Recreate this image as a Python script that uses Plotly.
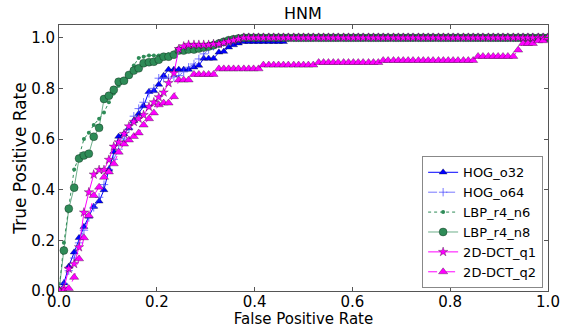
import plotly.graph_objects as go

# Shared false-positive-rate grid (markers are evenly spaced along x)
FPR = [0.000, 0.010, 0.020, 0.031, 0.041, 0.051, 0.061, 0.071, 0.082, 0.092,
       0.102, 0.112, 0.122, 0.133, 0.143, 0.153, 0.163, 0.173, 0.184, 0.194,
       0.204, 0.214, 0.224, 0.235, 0.245, 0.255, 0.265, 0.276, 0.286, 0.296,
       0.306, 0.316, 0.327, 0.337, 0.347, 0.357, 0.367, 0.378, 0.388, 0.398,
       0.408, 0.418, 0.429, 0.439, 0.449, 0.459, 0.469, 0.480, 0.490, 0.500,
       0.510, 0.520, 0.531, 0.541, 0.551, 0.561, 0.571, 0.582, 0.592, 0.602,
       0.612, 0.622, 0.633, 0.643, 0.653, 0.663, 0.673, 0.684, 0.694, 0.704,
       0.714, 0.724, 0.735, 0.745, 0.755, 0.765, 0.776, 0.786, 0.796, 0.806,
       0.816, 0.827, 0.837, 0.847, 0.857, 0.867, 0.878, 0.888, 0.898, 0.908,
       0.918, 0.929, 0.939, 0.949, 0.959, 0.969, 0.980, 0.990, 1.000]

HOG_o32 = [0.0, 0.031, 0.097, 0.153, 0.21, 0.254, 0.294, 0.333, 0.354, 0.399,
           0.48, 0.55, 0.61, 0.62, 0.643, 0.672, 0.70, 0.73, 0.787, 0.79,
           0.815, 0.85, 0.874, 0.874, 0.874, 0.874, 0.874, 0.883, 0.89, 0.918,
           0.918, 0.918, 0.942, 0.945, 0.962, 0.971, 0.978, 0.984, 0.984, 0.984,
           0.984, 0.984, 0.984, 0.984, 0.984, 0.984]

HOG_o64 = [0.0, 0.03, 0.08, 0.13, 0.19, 0.24, 0.29, 0.33, 0.37, 0.42,
           0.48, 0.52, 0.56, 0.60, 0.64, 0.69, 0.72, 0.745, 0.78, 0.80,
           0.84, 0.84, 0.84, 0.845, 0.85, 0.865, 0.883, 0.896, 0.916, 0.936,
           0.953, 0.966, 0.975, 0.98, 0.985, 0.99, 0.995, 1.0, 1.0, 1.0,
           1.0, 1.0, 1.0, 1.0, 1.0, 1.0, 1.0, 1.0, 1.0, 1.0,
           1.0, 1.0, 1.0, 1.0, 1.0, 1.0, 1.0, 1.0, 1.0, 1.0,
           1.0, 1.0, 1.0, 1.0, 1.0, 1.0, 1.0, 1.0, 1.0, 1.0,
           1.0, 1.0, 1.0, 1.0, 1.0, 1.0, 1.0, 1.0, 1.0, 1.0,
           1.0, 1.0, 1.0, 1.0, 1.0, 1.0, 1.0, 1.0, 1.0, 1.0,
           1.0, 1.0, 1.0, 1.0, 1.0, 1.0, 1.0, 1.0, 1.0]

LBP_r4_n6 = [0.0, 0.19, 0.33, 0.48, 0.53, 0.60, 0.625, 0.655, 0.68, 0.705,
             0.745, 0.78, 0.81, 0.83, 0.855, 0.89, 0.92, 0.925, 0.93, 0.93,
             0.93, 0.93, 0.935, 0.94, 0.95, 0.953, 0.957, 0.96, 0.965, 0.97,
             0.975, 0.98, 0.985, 0.99, 0.993, 0.996, 0.998, 1.0, 1.0, 1.0,
             1.0, 1.0, 1.0, 1.0, 1.0, 1.0, 1.0, 1.0, 1.0, 1.0,
             1.0, 1.0, 1.0, 1.0, 1.0, 1.0, 1.0, 1.0, 1.0, 1.0,
             1.0, 1.0, 1.0, 1.0, 1.0, 1.0, 1.0, 1.0, 1.0, 1.0,
             1.0, 1.0, 1.0, 1.0, 1.0, 1.0, 1.0, 1.0, 1.0, 1.0,
             1.0, 1.0, 1.0, 1.0, 1.0, 1.0, 1.0, 1.0, 1.0, 1.0,
             1.0, 1.0, 1.0, 1.0, 1.0, 1.0, 1.0, 1.0, 1.0]

LBP_r4_n8 = [0.0, 0.16, 0.325, 0.408, 0.523, 0.535, 0.542, 0.609, 0.644, 0.758,
             0.771, 0.794, 0.826, 0.83, 0.853, 0.87, 0.879, 0.899, 0.903, 0.905,
             0.913, 0.925, 0.925, 0.933, 0.949, 0.949, 0.953, 0.953, 0.957, 0.961,
             0.965, 0.97, 0.977, 0.984, 0.99, 0.994, 0.997, 1.0, 1.0, 1.0,
             1.0, 1.0, 1.0, 1.0, 1.0, 1.0, 1.0, 1.0, 1.0, 1.0,
             1.0, 1.0, 1.0, 1.0, 1.0, 1.0, 1.0, 1.0, 1.0, 1.0,
             1.0, 1.0, 1.0, 1.0, 1.0, 1.0, 1.0, 1.0, 1.0, 1.0,
             1.0, 1.0, 1.0, 1.0, 1.0, 1.0, 1.0, 1.0, 1.0, 1.0,
             1.0, 1.0, 1.0, 1.0, 1.0, 1.0, 1.0, 1.0, 1.0, 1.0,
             1.0, 1.0, 1.0, 1.0, 1.0, 1.0, 1.0, 1.0, 1.0]

DCT_q1 = [0.0, 0.01, 0.088, 0.107, 0.173, 0.31, 0.39, 0.46, 0.478, 0.478,
          0.518, 0.57, 0.587, 0.62, 0.65, 0.668, 0.68, 0.695, 0.727, 0.745,
          0.765, 0.784, 0.821, 0.86, 0.955, 0.966, 0.972, 0.972, 0.972, 0.972,
          0.972, 0.975, 0.975, 0.98, 0.985, 0.99, 0.995, 1.0, 1.0, 1.0,
          1.0, 1.0, 1.0, 1.0, 1.0, 1.0, 1.0, 1.0, 1.0, 1.0,
          1.0, 1.0, 1.0, 1.0, 1.0, 1.0, 1.0, 1.0, 1.0, 1.0,
          1.0, 1.0, 1.0, 1.0, 1.0, 1.0, 1.0, 1.0, 1.0, 1.0,
          1.0, 1.0, 1.0, 1.0, 1.0, 1.0, 1.0, 1.0, 1.0, 1.0,
          1.0, 1.0, 1.0, 1.0, 1.0, 1.0, 1.0, 1.0, 1.0, 1.0,
          1.0, 1.0, 1.0, 1.0, 1.0, 1.0, 1.0, 1.0, 1.0]

DCT_q2 = [0.0, 0.0, 0.01, 0.054, 0.127, 0.21, 0.298, 0.377, 0.41, 0.449,
          0.47, 0.502, 0.548, 0.58, 0.596, 0.61, 0.624, 0.655, 0.68, 0.703,
          0.735, 0.742, 0.742, 0.767, 0.833, 0.833, 0.833, 0.855, 0.855, 0.855,
          0.855, 0.855, 0.877, 0.877, 0.877, 0.877, 0.877, 0.877, 0.877, 0.877,
          0.877, 0.892, 0.892, 0.892, 0.892, 0.892, 0.892, 0.892, 0.892, 0.892,
          0.892, 0.892, 0.902, 0.902, 0.902, 0.902, 0.902, 0.902, 0.902, 0.902,
          0.902, 0.902, 0.902, 0.902, 0.902, 0.91, 0.91, 0.91, 0.91, 0.91,
          0.91, 0.91, 0.91, 0.91, 0.91, 0.91, 0.91, 0.91, 0.91, 0.91,
          0.91, 0.91, 0.91, 0.91, 0.926, 0.926, 0.926, 0.926, 0.926, 0.926,
          0.926, 0.926, 0.951, 0.977, 0.977, 0.977, 0.988, 0.988, 1.0]

X_TICKS = [0.0, 0.2, 0.4, 0.6, 0.8, 1.0]
Y_TICKS = [0.0, 0.2, 0.4, 0.6, 0.8, 1.0]

BLUE = "#0000ff"
GREEN = "#2e8b57"
MAGENTA = "#ff00ff"
EDGE = "rgba(0,0,0,0.6)"

fig = go.Figure()

fig.add_trace(go.Scatter(
    x=FPR[:len(HOG_o32)], y=HOG_o32, name="HOG_o32", mode="lines+markers",
    line=dict(color=BLUE, width=1),
    marker=dict(symbol="triangle-up", size=7, color=BLUE, line=dict(width=0.5, color=EDGE))))
fig.add_trace(go.Scatter(
    x=FPR[:len(HOG_o64)], y=HOG_o64, name="HOG_o64", mode="lines+markers",
    line=dict(color="rgba(60,60,255,0.7)", width=1, dash="dash"),
    marker=dict(symbol="cross-thin", size=6, color="rgba(60,60,255,0.7)",
                line=dict(width=1, color="rgba(60,60,255,0.7)"))))
fig.add_trace(go.Scatter(
    x=FPR[:len(LBP_r4_n6)], y=LBP_r4_n6, name="LBP_r4_n6", mode="lines+markers",
    line=dict(color=GREEN, width=1, dash="dot"),
    marker=dict(symbol="circle", size=4, color=GREEN, line=dict(width=0))))
fig.add_trace(go.Scatter(
    x=FPR[:len(LBP_r4_n8)], y=LBP_r4_n8, name="LBP_r4_n8", mode="lines+markers",
    line=dict(color=GREEN, width=0.7),
    marker=dict(symbol="circle", size=8, color=GREEN, line=dict(width=0.5, color=EDGE))))
fig.add_trace(go.Scatter(
    x=FPR[:len(DCT_q1)], y=DCT_q1, name="2D-DCT_q1", mode="lines+markers",
    line=dict(color=MAGENTA, width=1),
    marker=dict(symbol="star", size=7, color=MAGENTA, line=dict(width=0.5, color=EDGE))))
fig.add_trace(go.Scatter(
    x=FPR[:len(DCT_q2)], y=DCT_q2, name="2D-DCT_q2", mode="lines+markers",
    line=dict(color=MAGENTA, width=1, dash="dash"),
    marker=dict(symbol="triangle-up", size=8, color=MAGENTA, line=dict(width=0.5, color=EDGE))))

axis_common = dict(
    showgrid=False, zeroline=False, showline=True, linecolor="#555555", linewidth=1,
    mirror="ticks", ticks="inside", ticklen=4, tickcolor="#555555",
    tickfont=dict(size=15, color="#000000"), tickformat=".1f", automargin=False,
)

fig.update_layout(
    width=563, height=328,
    margin=dict(l=59, r=15, t=25, b=37),
    paper_bgcolor="white", plot_bgcolor="white",
    font=dict(family="DejaVu Sans", size=16, color="#000000"),
    title=dict(text="HNM", x=0.538, xanchor="center", y=0.958, yanchor="middle",
               yref="container", font=dict(size=16)),
    xaxis=dict(range=[0, 1.0], tickvals=X_TICKS, ticklabelstandoff=-3,
               title=dict(text="False Positive Rate", font=dict(size=15), standoff=9),
               **axis_common),
    yaxis=dict(range=[0, 1.05], tickvals=Y_TICKS,
               title=dict(text="True Positive Rate", font=dict(size=17), standoff=0),
               **axis_common),
    legend=dict(x=0.99, y=0.01, xanchor="right", yanchor="bottom",
                bgcolor="white", bordercolor="#888888", borderwidth=1,
                font=dict(size=13), tracegroupgap=0, itemwidth=30),
    showlegend=True,
)

fig.write_html("out.html", config={"displayModeBar": False},
               post_script="document.body.style.margin='0';")
